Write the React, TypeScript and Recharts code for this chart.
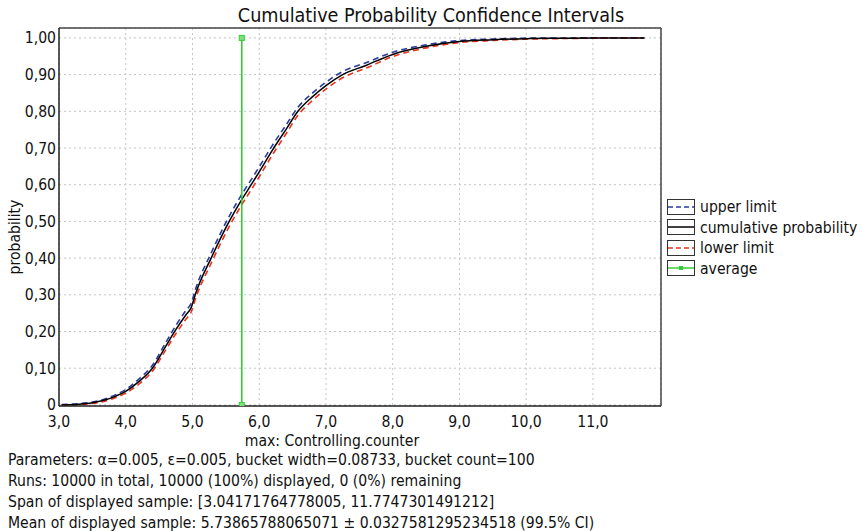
import React from 'react';
import { LineChart, Line, XAxis, YAxis, CartesianGrid, ReferenceLine, Legend } from 'recharts';

const xValues = [3.04, 3.3, 3.5, 3.7, 3.85, 4.0, 4.2, 4.4, 4.6, 4.75, 4.9, 4.98, 5.05, 5.28, 5.55, 5.74, 5.88, 6.0, 6.2, 6.4, 6.58, 6.8, 7.0, 7.25, 7.6, 8.0, 8.5, 9.0, 9.5, 10.0, 10.5, 11.0, 11.77];
const cumulative = [0.0, 0.002, 0.006, 0.014, 0.024, 0.037, 0.064, 0.1, 0.16, 0.205, 0.245, 0.265, 0.305, 0.4, 0.5, 0.56, 0.6, 0.635, 0.695, 0.75, 0.8, 0.84, 0.87, 0.9, 0.925, 0.955, 0.977, 0.99, 0.995, 0.998, 0.999, 1.0, 1.0];
const upperLimit = [0.001, 0.0035, 0.008, 0.017, 0.028, 0.042, 0.071, 0.108, 0.17, 0.216, 0.257, 0.277, 0.318, 0.414, 0.514, 0.574, 0.614, 0.6485, 0.708, 0.762, 0.811, 0.85, 0.8795, 0.9085, 0.9325, 0.961, 0.9812, 0.9928, 0.997, 0.9993, 0.9999, 1.0, 1.0];
const lowerLimit = [0.0, 0.0007, 0.004, 0.011, 0.02, 0.032, 0.057, 0.092, 0.15, 0.194, 0.233, 0.253, 0.292, 0.386, 0.486, 0.546, 0.586, 0.6215, 0.682, 0.738, 0.789, 0.83, 0.8605, 0.8915, 0.9175, 0.949, 0.9728, 0.9872, 0.993, 0.9967, 0.9981, 0.9992, 1.0];
const averageX = 5.73865788065071;
const averageY = [0, 1];
const xTicks = [3, 4, 5, 6, 7, 8, 9, 10, 11];
const yTicks = [0, 0.1, 0.2, 0.3, 0.4, 0.5, 0.6, 0.7, 0.8, 0.9, 1.0];
const legendLabels = ['upper limit', 'cumulative probability', 'lower limit', 'average'];
const infoLines = [
  'Parameters: α=0.005, ε=0.005, bucket width=0.08733, bucket count=100',
  'Runs: 10000 in total, 10000 (100%) displayed, 0 (0%) remaining',
  'Span of displayed sample: [3.04171764778005, 11.7747301491212]',
  'Mean of displayed sample: 5.73865788065071 ± 0.0327581295234518 (99.5% CI)',
];

const X_MAX = 12.02;
const Y_MIN = -0.003;
const Y_MAX = 1.027;

const FONT = "'DejaVu Sans Condensed', 'DejaVu Sans', sans-serif";
const FS = 15.6;
const BLUE = '#2a3c9c';
const RED = '#e8321e';
const GREEN = '#33cc33';

const data = xValues.map((x, i) => ({ x, cum: cumulative[i], up: upperLimit[i], lo: lowerLimit[i] }));
const avgData = averageY.map((v) => ({ x: averageX, avg: v }));

const fmtY = (v: number) => (v === 0 ? '0' : v.toFixed(2).replace('.', ','));
const fmtX = (v: number) => v.toFixed(1).replace('.', ',');

const AvgDot = (props: any) => {
  const { cx, cy } = props;
  if (cx == null || cy == null) return null;
  return <rect x={cx - 2.5} y={cy - 2.5} width={5} height={5} fill="#7ee07e" stroke={GREEN} strokeWidth={1} />;
};

const LegendContent = () => {
  const styles = [
    { stroke: BLUE, dash: '5 3', marker: false },
    { stroke: '#000', dash: undefined, marker: false },
    { stroke: RED, dash: '5 3', marker: false },
    { stroke: GREEN, dash: undefined, marker: true },
  ];
  return (
    <div style={{ fontFamily: FONT, fontSize: FS, color: '#111' }}>
      {legendLabels.map((label, i) => (
        <div key={label} style={{ display: 'flex', alignItems: 'center', height: 20.5 }}>
          <svg width={29} height={17} style={{ marginRight: 4 }}>
            <rect x={0.5} y={0.5} width={27} height={15} fill="#fff" stroke="#333" strokeWidth={1} />
            <line x1={1} x2={27} y1={8} y2={8} stroke={styles[i].stroke} strokeWidth={1.5} strokeDasharray={styles[i].dash} />
            {styles[i].marker && <rect x={12} y={6} width={4} height={4} fill={GREEN} />}
          </svg>
          <span style={{ whiteSpace: 'nowrap' }}>{label}</span>
        </div>
      ))}
    </div>
  );
};

export default function App() {
  return (
    <div style={{ position: 'absolute', left: 0, top: 0, width: 862, height: 531, background: '#fff', fontFamily: FONT }}>
      <LineChart width={862} height={531} margin={{ top: 28, right: 201, left: 0, bottom: 0 }}>
        <CartesianGrid stroke="#c4c4c4" strokeDasharray="2 3" />
        <XAxis
          type="number"
          dataKey="x"
          domain={[3, X_MAX]}
          ticks={xTicks}
          allowDataOverflow
          tickFormatter={fmtX}
          tickLine={false}
          tickSize={6}
          tickMargin={4}
          height={125}
          axisLine={{ stroke: '#222', strokeWidth: 1.5 }}
          tick={{ fill: '#111', fontSize: FS, fontFamily: FONT }}
        />
        <YAxis
          type="number"
          domain={[Y_MIN, Y_MAX]}
          ticks={yTicks}
          allowDataOverflow
          tickFormatter={fmtY}
          tickLine={false}
          tickSize={2}
          tickMargin={1}
          width={59}
          axisLine={{ stroke: '#222', strokeWidth: 1.5 }}
          tick={{ fill: '#111', fontSize: FS, fontFamily: FONT }}
        />
        <ReferenceLine y={Y_MAX} stroke="#444" strokeWidth={1.5} ifOverflow="visible" />
        <ReferenceLine x={X_MAX} stroke="#444" strokeWidth={1.5} ifOverflow="visible" />
        <Line data={data} dataKey="up" name="upper limit" stroke={BLUE} strokeWidth={1.6} strokeDasharray="6 4" dot={false} isAnimationActive={false} type="monotone" />
        <Line data={data} dataKey="lo" name="lower limit" stroke={RED} strokeWidth={1.6} strokeDasharray="6 4" dot={false} isAnimationActive={false} type="monotone" />
        <Line data={data} dataKey="cum" name="cumulative probability" stroke="#000" strokeWidth={1.5} dot={false} isAnimationActive={false} type="monotone" />
        <Line data={avgData} dataKey="avg" name="average" stroke={GREEN} strokeWidth={1.6} dot={<AvgDot />} isAnimationActive={false} type="linear" />
        <Legend
          layout="vertical"
          align="center"
          verticalAlign="middle"
          content={<LegendContent />}
          wrapperStyle={{ position: 'absolute', left: 667, top: 197, width: 195 }}
        />
      </LineChart>
      <div style={{ position: 'absolute', left: 431, top: 4, transform: 'translateX(-50%)', fontSize: 19.6, color: '#111', whiteSpace: 'nowrap' }}>
        Cumulative Probability Confidence Intervals
      </div>
      <div style={{ position: 'absolute', left: 332, top: 433, transform: 'translateX(-50%)', fontSize: FS, lineHeight: '16px', color: '#111', whiteSpace: 'nowrap' }}>
        max: Controlling.counter
      </div>
      <div style={{ position: 'absolute', left: 15, top: 237, transform: 'translate(-50%, -50%) rotate(-90deg)', fontSize: FS, color: '#111', whiteSpace: 'nowrap' }}>
        probability
      </div>
      <div style={{ position: 'absolute', left: 8, top: 450, fontSize: FS, color: '#111', lineHeight: '21px' }}>
        {infoLines.map((t) => (
          <div key={t} style={{ whiteSpace: 'nowrap' }}>{t}</div>
        ))}
      </div>
    </div>
  );
}
